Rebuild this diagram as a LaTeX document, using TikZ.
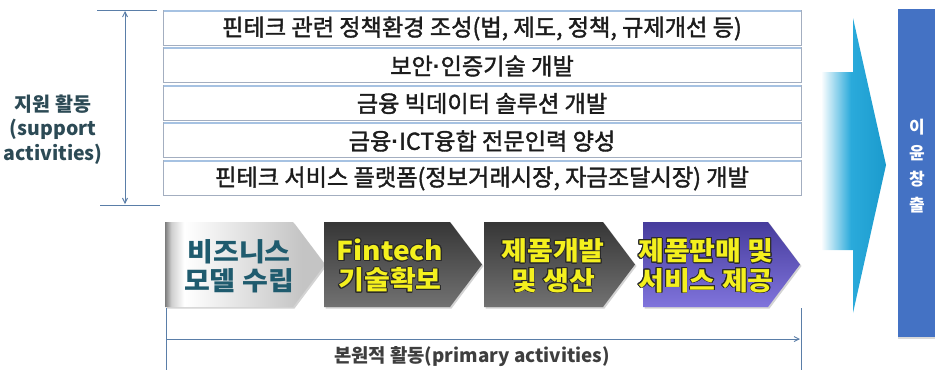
\documentclass[tikz,border=0pt]{standalone}
\usepackage{fontspec}
\newfontfamily\kr{Noto Sans CJK KR}
\newfontfamily\krm{Noto Sans CJK KR}[BoldFont={Noto Sans CJK KR}, BoldFeatures={FakeBold=1.6}]
\newfontfamily\krwide{Noto Sans CJK KR}[FakeStretch=1.08]
\newfontfamily\lib{Liberation Sans}
\usepackage{contour}
\contourlength{0.9pt}
\usetikzlibrary{arrows.meta,shadows}

\definecolor{rowline}{HTML}{A3AEC0}
\definecolor{rowtop}{HTML}{A6C2E2}
\definecolor{rowtext}{HTML}{1C1C1C}
\definecolor{axisblue}{HTML}{5A7EA8}
\definecolor{labelteal}{HTML}{2C4A55}
\definecolor{sv0}{HTML}{7C7C7C}
\definecolor{sv1}{HTML}{CFCFCF}
\definecolor{sv2}{HTML}{C4C4C4}
\definecolor{darkA}{HTML}{363636}
\definecolor{darkB}{HTML}{727272}
\definecolor{purA}{HTML}{463C9C}
\definecolor{purB}{HTML}{8074DC}
\definecolor{hilite}{HTML}{F4F01E}
\definecolor{outl}{HTML}{2A2A2A}
\definecolor{bmteal}{HTML}{1F5B6E}
\definecolor{cyA}{HTML}{2AAADB}
\definecolor{cyB}{HTML}{1B9BCD}
\definecolor{boxblue}{HTML}{4472C4}

\pgfdeclarehorizontalshading{silverbar}{100bp}{color(0bp)=(sv0); color(25bp)=(sv0); color(27bp)=(sv1); color(31bp)=(white); color(68bp)=(sv2); color(75bp)=(sv2); color(100bp)=(sv2)}
\pgfdeclarehorizontalshading{cyanbar}{100bp}{color(0bp)=(white); color(25bp)=(white); color(48bp)=(cyA); color(75bp)=(cyB); color(100bp)=(cyB)}

% narrow middle dot between words
\newcommand\mdot{{\lib ·}}
% centred stack of lines in the current font
\newcommand\stackc[1]{\begin{tabular}{@{}c@{}}#1\end{tabular}}

\tikzset{
  x=1pt, y=-1pt,
  rowbox/.style={draw=rowline, line width=0.9pt, fill=white},
  rowlabel/.style={font=\krm\bfseries\fontsize{23.2}{24}\selectfont, text=rowtext, inner sep=0pt},
  chev/.style={drop shadow={opacity=0.35, shadow xshift=1.5pt, shadow yshift=-1.5pt}},
  chevtext/.style={font=\krwide\bfseries\fontsize{26}{29.5}\selectfont, align=center, inner sep=0pt},
  axisline/.style={draw=axisblue, line width=0.9pt},
  axisarrow/.style={axisline, -{Straight Barb[length=5pt,width=5pt]}},
  plainlabel/.style={inner sep=0pt},
}

\begin{document}
\begin{tikzpicture}
\useasboundingbox (0,0) rectangle (935,370);

% support activities: five stacked rows
\foreach \t in {10, 47.5, 85, 122.5, 160}{
  \path[rowbox] (163,\t) rectangle (801,\t+35);
  \draw[rowtop, line width=2pt] (163.5,\t+0.8) -- (800.5,\t+0.8);
}
\node[rowlabel] (t1) at (482,28.5) {핀테크 관련 정책환경 조성(법, 제도, 정책, 규제개선 등)};
\node[rowlabel] (t2) at (482,66) {보안\mdot 인증기술 개발};
\node[rowlabel] (t3) at (482,103.5) {금융 빅데이터 솔루션 개발};
\node[rowlabel] (t4) at (482,141) {금융\mdot ICT융합 전문인력 양성};
\node[rowlabel] (t5) at (482,178.5) {핀테크 서비스 플랫폼(정보거래시장, 자금조달시장) 개발};

% vertical extent of the support activities
\coordinate (sTopL) at (97,10);
\coordinate (sTopR) at (157,10);
\coordinate (sBotL) at (100,205);
\coordinate (sBotR) at (160,205);
\coordinate (sA) at (125,11);
\coordinate (sB) at (125,204);
\draw[axisline] (sTopL) -- (sTopR);
\draw[axisline] (sBotL) -- (sBotR);
\draw[axisarrow, {Straight Barb[length=5pt,width=5pt]}-{Straight Barb[length=5pt,width=5pt]}] (sA) -- (sB);
\node[plainlabel, text=labelteal] (sup) at (53,131)
  {\kr\bfseries\fontsize{19.5}{24.5}\selectfont\stackc{지원 활동\\(support\\activities)}};

% primary activities: four chevrons
\path[chev, shading=silverbar] (165,222) -- (293,222) -- (325,264.5) -- (293,307) -- (165,307) -- cycle;
\path[chev, top color=darkA, bottom color=darkB] (324,222) -- (450,222) -- (482,264.5) -- (450,307) -- (324,307) -- cycle;
\path[chev, top color=darkA, bottom color=darkB] (484,222) -- (603,222) -- (635,264.5) -- (603,307) -- (484,307) -- cycle;
\path[chev, top color=purA, bottom color=purB] (643,222) -- (768,222) -- (800,264.5) -- (768,307) -- (643,307) -- cycle;

\node[chevtext, text=bmteal] (c1) at (239,266) {비즈니스\\모델 수립};
\node[chevtext, text=hilite] (c2) at (390,266) {\contour{outl}{Fintech}\\\contour{outl}{기술확보}};
\node[chevtext, text=hilite] (c3) at (553,266) {\contour{outl}{제품개발}\\\contour{outl}{및 생산}};
\node[chevtext, text=hilite] (c4) at (706,266) {\contour{outl}{제품판매 및}\\\contour{outl}{서비스 제공}};

% horizontal extent of the primary activities
\coordinate (pL1) at (166,308);
\coordinate (pL2) at (166,370);
\coordinate (pR1) at (801,308);
\coordinate (pR2) at (801,370);
\coordinate (pA) at (166,339);
\coordinate (pB) at (800,339);
\draw[axisline] (pL1) -- (pL2);
\draw[axisline] (pR1) -- (pR2);
\draw[axisarrow] (pA) -- (pB);
\node[plainlabel, text=rowtext!85] (prim) at (472,357)
  {\kr\bfseries\fontsize{18.8}{20}\selectfont 본원적 활동(primary activities)};

% big arrow into the result box
\path[shading=cyanbar] (821,72) -- (853,72) -- (853,18) -- (886,165) -- (853,313) -- (853,250) -- (821,250) -- cycle;

% result box
\path[fill=boxblue, drop shadow={opacity=0.3, shadow xshift=0pt, shadow yshift=-2pt}] (898,9) rectangle (935,337);
\node[plainlabel, text=white] (res) at (917,167)
  {\kr\bfseries\fontsize{17}{26}\selectfont\stackc{이\\윤\\창\\출}};
\end{tikzpicture}
\end{document}
